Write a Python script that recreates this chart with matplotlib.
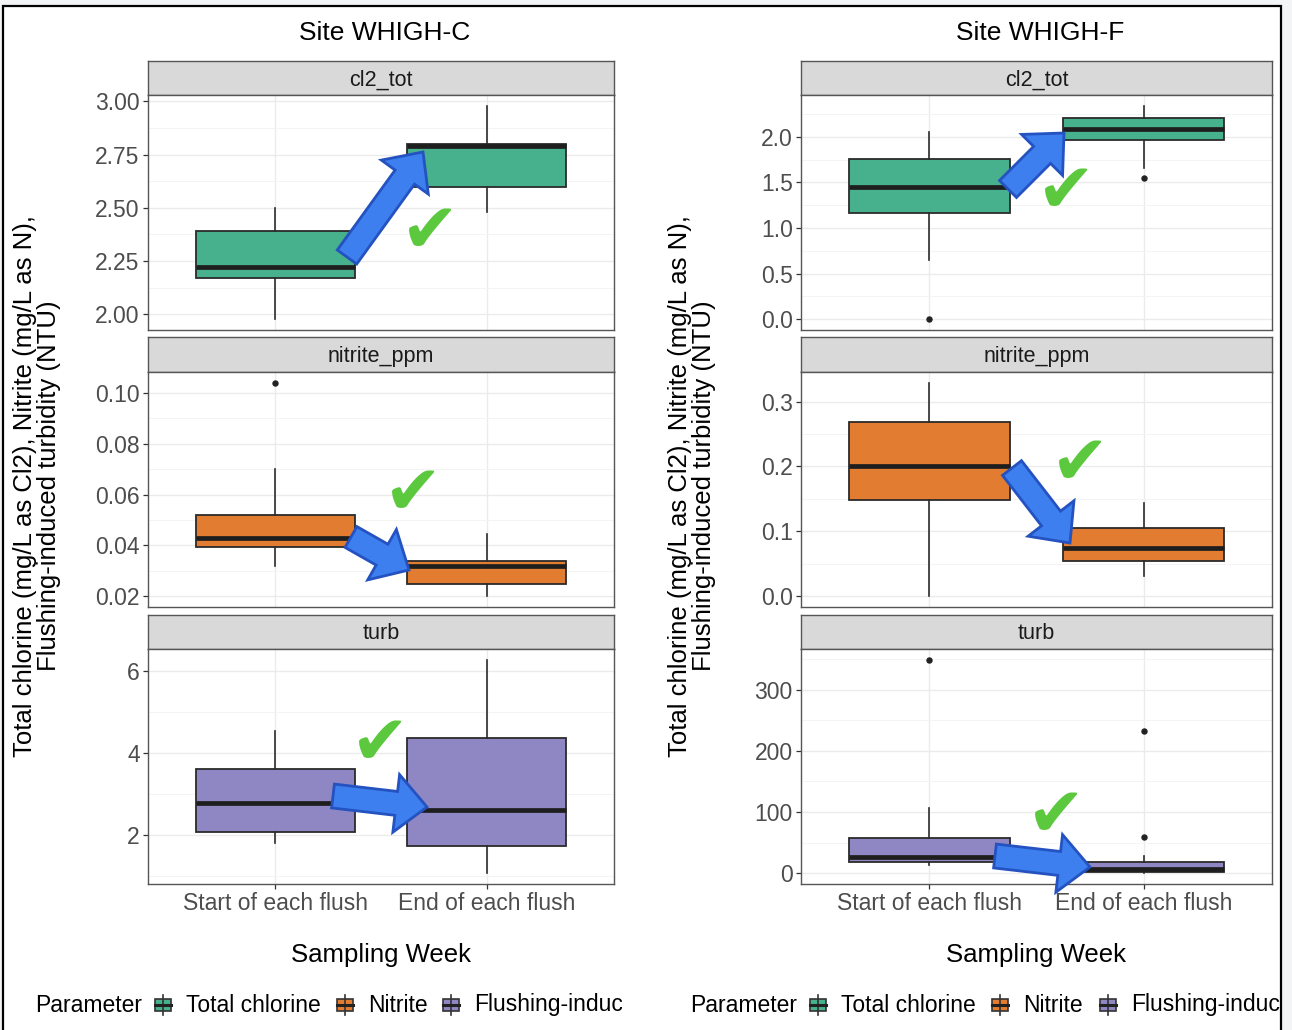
import matplotlib
matplotlib.use("Agg")
import matplotlib.pyplot as plt
from matplotlib.patches import Rectangle, FancyArrow
from matplotlib.transforms import Bbox, TransformedBbox
from matplotlib.ticker import FixedLocator, FormatStrFormatter

plt.rcParams['font.family'] = ['Liberation Sans', 'DejaVu Sans']

W, H = 1292, 1030

# Box statistics per group: [whisker low, q1, median, q3, whisker high]
groups = ["Start of each flush", "End of each flush"]
params = ["cl2_tot", "nitrite_ppm", "turb"]
param_names = ["Total chlorine", "Nitrite", "Flushing-induced"]
param_colors = ["#47b08c", "#e27c30", "#8f87c3"]

c_cl2 = [[1.976, 2.17, 2.22, 2.39, 2.50], [2.48, 2.60, 2.79, 2.80, 2.98]]
c_cl2_out = [[], []]
c_no2 = [[0.032, 0.0395, 0.043, 0.052, 0.070], [0.020, 0.025, 0.032, 0.034, 0.0445]]
c_no2_out = [[0.104], []]
c_turb = [[1.80, 2.07, 2.78, 3.61, 4.54], [1.07, 1.73, 2.61, 4.37, 6.27]]
c_turb_out = [[], []]

f_cl2 = [[0.65, 1.16, 1.45, 1.76, 2.05], [1.66, 1.96, 2.09, 2.21, 2.34]]
f_cl2_out = [[0.0], [1.55]]
f_no2 = [[0.0, 0.148, 0.200, 0.269, 0.329], [0.031, 0.055, 0.075, 0.105, 0.143]]
f_no2_out = [[], []]
f_turb = [[13, 18, 26, 57, 106], [0, 2, 7, 18, 28]]
f_turb_out = [[349], [59, 233]]

c_ticks = [[2.00, 2.25, 2.50, 2.75, 3.00], [0.02, 0.04, 0.06, 0.08, 0.10], [2, 4, 6]]
f_ticks = [[0.0, 0.5, 1.0, 1.5, 2.0], [0.0, 0.1, 0.2, 0.3], [0, 100, 200, 300]]
c_fmt = ["%.2f", "%.2f", "%d"]
f_fmt = ["%.1f", "%.1f", "%d"]

sites = [
    dict(title="Site WHIGH-C", x0=148, x1=614, ylab_x=37, legend_x=35, clip_x=622,
         keys=[163, 345, 451],
         stats=[c_cl2, c_no2, c_turb], outs=[c_cl2_out, c_no2_out, c_turb_out],
         ticks=c_ticks, fmt=c_fmt),
    dict(title="Site WHIGH-F", x0=801, x1=1272, ylab_x=692, legend_x=690, clip_x=1280,
         keys=[818, 1000, 1108],
         stats=[f_cl2, f_no2, f_turb], outs=[f_cl2_out, f_no2_out, f_turb_out],
         ticks=f_ticks, fmt=f_fmt),
]
rows = [(61, 95, 330), (337, 372, 607), (615, 649, 884)]

fig = plt.figure(figsize=(W / 100, H / 100), dpi=100)
fig.patch.set_facecolor("#f3f4f6")


def px_axes(left, top, right, bottom, **kw):
    return fig.add_axes([left / W, 1 - bottom / H, (right - left) / W, (bottom - top) / H], **kw)


def pixel_layer(z):
    a = fig.add_axes([0, 0, 1, 1], zorder=z)
    a.set_xlim(0, W)
    a.set_ylim(H, 0)
    a.axis("off")
    a.patch.set_visible(False)
    return a


bg = pixel_layer(-20)
bg.add_patch(Rectangle((3, 6), 1278, H - 6, fc="white", ec="none"))
bg.plot([3, 3, 1281, 1281], [H, 6, 6, H], color="black", lw=1.6, solid_joinstyle="miter")

for site in sites:
    x0, x1 = site["x0"], site["x1"]
    for i, (s_top, p_top, p_bot) in enumerate(rows):
        strip = px_axes(x0, s_top, x1, p_top)
        strip.set_facecolor("#d9d9d9")
        strip.set_xticks([])
        strip.set_yticks([])
        for sp in strip.spines.values():
            sp.set_color("#555555")
            sp.set_linewidth(1.0)
        strip.text(0.5, 0.45, params[i], ha="center", va="center", fontsize=15.5,
                   color="#1a1a1a", transform=strip.transAxes)

        ax = px_axes(x0, p_top, x1, p_bot)
        stats = site["stats"][i]
        outs = site["outs"][i]
        bstats = []
        for g, (lo, q1, med, q3, hi) in enumerate(stats):
            bstats.append(dict(whislo=lo, q1=q1, med=med, q3=q3, whishi=hi, fliers=outs[g]))
        col = param_colors[i]
        ax.bxp(bstats, positions=[1, 2], widths=0.75, showcaps=False, patch_artist=True,
               manage_ticks=False,
               boxprops=dict(facecolor=col, edgecolor="#2b2b2b", linewidth=1.3),
               medianprops=dict(color="#1e1e1e", linewidth=3.4, solid_capstyle="butt"),
               whiskerprops=dict(color="#2b2b2b", linewidth=1.2),
               flierprops=dict(marker="o", markerfacecolor="#222222", markeredgecolor="#222222",
                               markersize=3.6))
        allv = [v for st in stats for v in (st[0], st[4])] + [v for o in outs for v in o]
        lo, hi = min(allv), max(allv)
        pad = 0.05 * (hi - lo)
        ax.set_ylim(lo - pad, hi + pad)
        ax.set_xlim(0.4, 2.6)

        tk = site["ticks"][i]
        step = tk[1] - tk[0]
        minor = [t + step / 2 for t in [tk[0] - step] + tk]
        ax.yaxis.set_major_locator(FixedLocator(tk))
        ax.yaxis.set_minor_locator(FixedLocator(minor))
        ax.yaxis.set_major_formatter(FormatStrFormatter(site["fmt"][i]))
        ax.set_xticks([1, 2])
        ax.grid(True, which="major", color="#ebebeb", linewidth=1.0)
        ax.grid(True, which="minor", axis="y", color="#f3f3f3", linewidth=0.6)
        ax.set_axisbelow(True)
        ax.tick_params(axis="y", which="minor", length=0)
        ax.tick_params(axis="both", which="major", length=3.5, width=0.9, color="#333333",
                       labelsize=16.5, labelcolor="#4d4d4d", pad=2.5)
        if i == 2:
            ax.set_xticklabels(groups)
        else:
            ax.tick_params(axis="x", length=0, labelbottom=False)
        for sp in ax.spines.values():
            sp.set_color("#555555")
            sp.set_linewidth(1.0)

ov = pixel_layer(20)

for site in sites:
    cx = (site["x0"] + site["x1"]) / 2
    ov.text(cx + 4, 33, site["title"], ha="center", va="center", fontsize=19, color="black")
    ov.text(cx, 955, "Sampling Week", ha="center", va="center", fontsize=18.5, color="black")
    ov.text(site["ylab_x"], 486,
            "Total chlorine (mg/L as Cl2), Nitrite (mg/L as N),\nFlushing-induced turbidity (NTU)",
            ha="center", va="center", rotation=90, fontsize=18.5, linespacing=1.0, color="black")

    # legend row along the bottom, cut at the edge of each half
    clip = TransformedBbox(Bbox([[0, 0], [site["clip_x"], H]]), ov.transData)
    ov.text(site["legend_x"], 1005, "Parameter", ha="left", va="center", fontsize=16.5,
            color="black")
    for kx, name, col in zip(site["keys"], param_names, param_colors):
        ov.plot([kx, kx], [995, 1015], color="#333333", lw=1.2)
        ov.add_patch(Rectangle((kx - 8, 999), 16, 12, fc=col, ec="#333333", lw=1.2))
        ov.plot([kx - 8, kx + 8], [1005, 1005], color="#222222", lw=2.2)
        lab = ov.text(kx + 23, 1005, name, ha="left", va="center", fontsize=16.5, color="black")
        lab.set_clip_box(clip)
        lab.set_clip_on(True)

# trend arrows (tail -> tip, in pixels) and check marks
arrows = [((347, 257), (423, 152)), ((351, 537), (409, 570)), ((333, 796), (427, 807)),
          ((1008, 189), (1064, 133)), ((1012, 468), (1070, 543)), ((995, 856), (1090, 867))]
for (xa, ya), (xb, yb) in arrows:
    ov.add_patch(FancyArrow(xa, ya, xb - xa, yb - ya, width=24, head_width=58, head_length=31,
                            length_includes_head=True, fc="#3d7fef", ec="#2452c0", lw=2,
                            joinstyle="miter"))

checks = [(430, 232), (413, 494), (380, 744), (1066, 192), (1080, 464), (1056, 817)]
for xc, yc in checks:
    ov.text(xc, yc, "\u2714", ha="center", va="center", fontsize=50, color="#5cc83e",
            family="DejaVu Sans")

fig.savefig("out.png", dpi=100, facecolor=fig.get_facecolor())
